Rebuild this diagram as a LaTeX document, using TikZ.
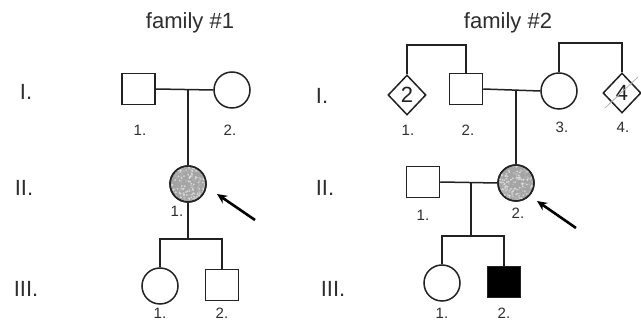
\documentclass[tikz,border=0pt]{standalone}
\usepackage{fontspec}
\setmainfont{Liberation Sans}
\usetikzlibrary{shapes.geometric,arrows.meta}
\definecolor{ink}{HTML}{222222}
\definecolor{txt}{HTML}{2E2E2E}
\definecolor{stip}{HTML}{A4A4A4}
\begin{document}
\begin{tikzpicture}[x=1pt,y=-1pt,
  sq/.style={draw=ink,rectangle,minimum width=33pt,minimum height=31pt,inner sep=0pt,line width=1.5pt},
  ci/.style={draw=ink,circle,minimum size=36pt,inner sep=0pt,line width=1.5pt},
  dm/.style={draw=ink,diamond,minimum width=38pt,minimum height=40pt,inner sep=0pt,line width=1.5pt,text=ink,font=\fontsize{22}{22}\selectfont},
  lbl/.style={text=txt,font=\fontsize{15}{15}\selectfont,inner sep=0pt},
  rn/.style={text=txt,font=\fontsize{22}{22}\selectfont,inner sep=0pt},
  ttl/.style={text=txt,font=\fontsize{22}{22}\selectfont,inner sep=0pt},
  ln/.style={draw=ink,line width=1.5pt},
  arr/.style={draw=black,line width=2.6pt,-{Stealth[length=10pt,width=9pt]}}]
\useasboundingbox (0,0) rectangle (641,320);
\fill[white] (0,0) rectangle (641,320);

% ---------- family #1 ----------
\node[ttl] (t1) at (190,23) {family \#1};
\node[rn] (r1a) at (26,92) {I.};
\node[rn] (r1b) at (24,188) {II.};
\node[rn] (r1c) at (26,289) {III.};

\node[sq] (a1) at (138.5,89) {};
\node[ci] (a2) at (232,90) {};
\node[lbl] (la1) at (140,130) {1.};
\node[lbl] (la2) at (230,130) {2.};

\node[ci,fill=stip] (b1) at (188,184) {};
\begin{scope}
  \clip (b1.center) circle (17.3);
  \pgfmathsetseed{11}
  \foreach \i in {1,...,110}{
    \pgfmathsetmacro{\dx}{rand*18}\pgfmathsetmacro{\dy}{rand*18}
    \fill[gray!55,opacity=0.7] ([shift={(\dx,\dy)}]b1.center) circle (1.1);
    \pgfmathsetmacro{\ex}{rand*18}\pgfmathsetmacro{\ey}{rand*18}
    \fill[gray!15,opacity=0.7] ([shift={(\ex,\ey)}]b1.center) circle (1.0);
  }
\end{scope}
\node[ci] at (b1.center) {};
\node[lbl] (lb1) at (177,211) {1.};

\node[ci] (c1) at (160,286) {};
\node[sq] (c2) at (222,285) {};
\node[lbl] (lc1) at (160,313) {1.};
\node[lbl] (lc2) at (222,313) {2.};

\coordinate (m1) at (188,90);
\coordinate (s1) at (188,239);
\draw[ln] (a1.east) -- (a2.west);
\draw[ln] (m1) -- (b1.north);
\draw[ln] (b1.south) -- (s1);
\draw[ln] (c1.north) |- (s1) -| (c2.north);

\coordinate (ar1s) at (255,220);
\coordinate (ar1e) at (217,194);
\draw[arr] (ar1s) -- (ar1e);

% ---------- family #2 ----------
\node[ttl] (t2) at (508,23) {family \#2};
\node[rn] (r2a) at (322,96) {I.};
\node[rn] (r2b) at (325,188) {II.};
\node[rn] (r2c) at (333,289) {III.};

\node[dm] (d1) at (407,95) {2};
\node[sq] (e2) at (466,89) {};
\node[ci] (e3) at (559,91) {};
\node[dm] (d4) at (622,93) {4};
\draw[gray!60,line width=0.8pt] ([shift={(-17,15)}]d4.center) -- ([shift={(16,-16)}]d4.center);

\node[lbl] (ld1) at (408,130) {1.};
\node[lbl] (le2) at (468,130) {2.};
\node[lbl] (le3) at (562,127) {3.};
\node[lbl] (ld4) at (623,127) {4.};

\coordinate (sb1) at (437,45);
\coordinate (sb2) at (590,43);
\draw[ln] (d1.north) |- (sb1) -| (e2.north);
\draw[ln] (e3.north) |- (sb2) -| (d4.north);
\draw[ln] (e2.east) -- (e3.west);

\node[sq] (f1) at (423,182) {};
\node[ci,fill=stip] (f2) at (516,183) {};
\begin{scope}
  \clip (f2.center) circle (17.3);
  \pgfmathsetseed{23}
  \foreach \i in {1,...,110}{
    \pgfmathsetmacro{\dx}{rand*18}\pgfmathsetmacro{\dy}{rand*18}
    \fill[gray!55,opacity=0.7] ([shift={(\dx,\dy)}]f2.center) circle (1.1);
    \pgfmathsetmacro{\ex}{rand*18}\pgfmathsetmacro{\ey}{rand*18}
    \fill[gray!15,opacity=0.7] ([shift={(\ex,\ey)}]f2.center) circle (1.0);
  }
\end{scope}
\node[ci] at (f2.center) {};
\node[lbl] (lf1) at (423,215) {1.};
\node[lbl] (lf2) at (518,213) {2.};

\coordinate (m2) at (516,91);
\draw[ln] (m2) -- (f2.north);
\draw[ln] (f1.east) -- (f2.west);

\node[ci] (g1) at (442,283) {};
\node[sq,fill=black] (g2) at (504,282) {};
\node[lbl] (lg1) at (442,313) {1.};
\node[lbl] (lg2) at (504,313) {2.};

\coordinate (m3) at (471,183);
\coordinate (s2) at (471,236);
\draw[ln] (m3) -- (s2);
\draw[ln] (g1.north) |- (s2) -| (g2.north);

\coordinate (ar2s) at (576,228);
\coordinate (ar2e) at (537,201);
\draw[arr] (ar2s) -- (ar2e);
\end{tikzpicture}
\end{document}
